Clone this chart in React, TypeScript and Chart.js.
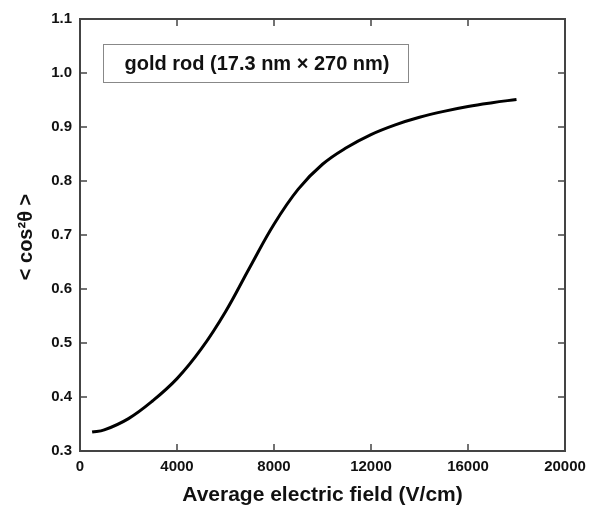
import React, { useEffect, useRef } from "react";
import { Chart, registerables } from "chart.js";

Chart.register(...registerables);

const fieldValues = [500, 1000, 2000, 3000, 4000, 5000, 6000, 7000, 8000, 9000, 10000, 11000, 12000, 13000, 14000, 15000, 16000, 17000, 18000];
const cosValues = [0.335, 0.339, 0.36, 0.393, 0.434, 0.489, 0.558, 0.64, 0.72, 0.785, 0.831, 0.862, 0.886, 0.904, 0.918, 0.929, 0.938, 0.945, 0.951];
const xTicks = [0, 4000, 8000, 12000, 16000, 20000];
const yTicks = [0.3, 0.4, 0.5, 0.6, 0.7, 0.8, 0.9, 1.0, 1.1];
const annotationText = "gold rod (17.3 nm \u00d7 270 nm)";
const xTitle = "Average electric field (V/cm)";
const yTitle = "< cos\u00b2\u03b8 >";

const FONT = "'Liberation Sans', Arial, Helvetica, sans-serif";

const framePlugin = {
  id: "frame",
  afterDraw(chart: any) {
    const { ctx, chartArea: a, scales } = chart;
    ctx.save();
    ctx.strokeStyle = "#444";
    ctx.lineWidth = 2;
    ctx.strokeRect(a.left, a.top, a.right - a.left, a.bottom - a.top);
    const tl = 7;
    ctx.lineWidth = 1.5;
    ctx.beginPath();
    xTicks.forEach((v) => {
      const px = scales.x.getPixelForValue(v);
      ctx.moveTo(px, a.bottom);
      ctx.lineTo(px, a.bottom - tl);
      ctx.moveTo(px, a.top);
      ctx.lineTo(px, a.top + tl);
    });
    yTicks.forEach((v) => {
      const py = scales.y.getPixelForValue(v);
      ctx.moveTo(a.left, py);
      ctx.lineTo(a.left + tl, py);
      ctx.moveTo(a.right, py);
      ctx.lineTo(a.right - tl, py);
    });
    ctx.stroke();

    // annotation box
    ctx.strokeStyle = "#888";
    ctx.lineWidth = 1;
    ctx.strokeRect(103.5, 44.5, 305, 38);
    ctx.fillStyle = "#111";
    ctx.font = `bold 20px ${FONT}`;
    ctx.textAlign = "center";
    ctx.textBaseline = "middle";
    ctx.fillText(annotationText, 257, 64);

    // y title
    ctx.translate(26, (a.top + a.bottom) / 2 + 2);
    ctx.rotate(-Math.PI / 2);
    ctx.font = `bold 20px ${FONT}`;
    ctx.fillText(yTitle, 0, 0);
    ctx.restore();
  },
};

export default function App() {
  const ref = useRef<HTMLCanvasElement>(null);
  useEffect(() => {
    document.body.style.margin = "0";
    const chart = new Chart(ref.current!, {
      type: "line",
      data: {
        datasets: [
          {
            data: fieldValues.map((x, i) => ({ x, y: cosValues[i] })),
            borderColor: "#000",
            borderWidth: 3,
            pointRadius: 0,
            tension: 0.4,
            fill: false,
          },
        ],
      },
      options: {
        animation: false,
        responsive: false,
        layout: { padding: { top: 19, right: 24, bottom: 0, left: 0 } },
        plugins: { legend: { display: false }, tooltip: { enabled: false } },
        scales: {
          x: {
            type: "linear",
            min: 0,
            max: 20000,
            afterBuildTicks: (s: any) => {
              s.ticks = xTicks.map((v) => ({ value: v }));
            },
            afterFit: (s: any) => {
              s.height = 57;
              s.paddingRight = 0;
              s.paddingLeft = 0;
            },
            grid: { display: false, drawTicks: false },
            border: { display: false },
            ticks: {
              color: "#111",
              padding: 7,
              font: { family: FONT, weight: "bold", size: 15 },
              callback: (v: any) => String(v),
              maxRotation: 0,
            },
            title: {
              display: true,
              text: xTitle,
              color: "#111",
              font: { family: FONT, weight: "bold", size: 21 },
              padding: { top: 4, bottom: 0 },
            },
          },
          y: {
            type: "linear",
            min: 0.3,
            max: 1.1,
            afterBuildTicks: (s: any) => {
              s.ticks = yTicks.map((v) => ({ value: v }));
            },
            afterFit: (s: any) => {
              s.width = 80;
              s.paddingTop = 0;
              s.paddingBottom = 0;
            },
            grid: { display: false, drawTicks: false },
            border: { display: false },
            ticks: {
              color: "#111",
              padding: 8,
              font: { family: FONT, weight: "bold", size: 15 },
              callback: (v: any) => Number(v).toFixed(1),
            },
          },
        },
      },
      plugins: [framePlugin],
    } as any);
    return () => chart.destroy();
  }, []);
  return (
    <div style={{ width: 589, height: 508 }}>
      <canvas ref={ref} width={589} height={508} style={{ width: 589, height: 508 }} />
    </div>
  );
}
